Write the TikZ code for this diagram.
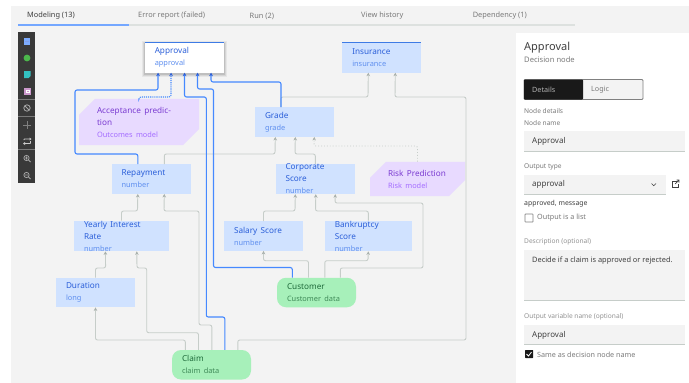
\documentclass[tikz,border=0pt]{standalone}
\usepackage{fontspec}
\setmainfont{Noto Sans}
\usetikzlibrary{arrows.meta,shapes.misc}
\definecolor{panelbg}{HTML}{F3F3F3}
\definecolor{boxblue}{HTML}{D0E2FF}
\definecolor{boxgreen}{HTML}{A7F0BA}
\definecolor{boxpurple}{HTML}{E8DAFF}
\definecolor{txtblue}{HTML}{2B5FD9}
\definecolor{subblue}{HTML}{5F8FEF}
\definecolor{txtpurple}{HTML}{7A3BD1}
\definecolor{subpurple}{HTML}{A56EFF}
\definecolor{txtgreen}{HTML}{1F6B3B}
\definecolor{subgreen}{HTML}{3F8A58}
\definecolor{gline}{HTML}{C6CDC9}
\definecolor{ghead}{HTML}{A8B0AC}
\definecolor{bline}{HTML}{4589FF}
\definecolor{dark}{HTML}{393939}
\definecolor{ink}{HTML}{404040}
\definecolor{soft}{HTML}{7A7A7A}
\tikzset{
  x=1pt,y=-1pt,
  dec/.style={rectangle,fill=boxblue,minimum width=79pt,minimum height=29.5pt,text width=59pt,inner xsep=10pt,inner ysep=0pt,align=left},
  dat/.style={dec,fill=boxgreen,rounded corners=9pt},
  mdl/.style={chamfered rectangle,chamfered rectangle corners={north west,south east},chamfered rectangle xsep=8pt,chamfered rectangle ysep=8pt,fill=boxpurple,minimum width=79pt,minimum height=29.5pt,text width=59pt,inner xsep=10pt,inner ysep=0pt,align=left},
  gflow/.style={draw=gline,line width=0.9pt,rounded corners=2pt,-{Stealth[length=3.5pt,width=3.5pt,color=ghead]}},
  bflow/.style={draw=bline,line width=1.1pt,rounded corners=2pt,-{Stealth[length=3.5pt,width=3.8pt,color=txtblue]}},
  gdot/.style={gflow,dotted},
  bdot/.style={bflow,densely dotted},
  lbl/.style={anchor=west,inner sep=0pt,font=\fontsize{7.2}{9}\selectfont,text=soft},
  val/.style={lbl,font=\fontsize{8}{10}\selectfont,text=ink},
  tab/.style={lbl,font=\fontsize{7.4}{9}\selectfont,text=soft},
  tool/.style={draw=#1,line width=0.8pt},
}
\newcommand{\bt}[1]{{\fontsize{8.2}{10.5}\selectfont\bfseries\color{txtblue}#1}}
\newcommand{\bs}[1]{{\fontsize{7.4}{9.5}\selectfont\color{subblue}#1}}
\newcommand{\pt}[1]{{\fontsize{8.2}{10.5}\selectfont\bfseries\color{txtpurple}#1}}
\newcommand{\ps}[1]{{\fontsize{7.4}{9.5}\selectfont\color{subpurple}#1}}
\newcommand{\gt}[1]{{\fontsize{8.2}{10.5}\selectfont\bfseries\color{txtgreen}#1}}
\newcommand{\gs}[1]{{\fontsize{7.4}{9.5}\selectfont\color{subgreen}#1}}
\begin{document}
\begin{tikzpicture}
\useasboundingbox (0,0) rectangle (689,383);
\fill[white] (0,0) rectangle (689,383);
% canvas and panel
\fill[panelbg] (11,6) rectangle (689,383);
\fill[white] (516,33) rectangle (689,383);
\fill[white] (0,0) rectangle (689,6);
% tabs
\fill[gline!60] (129,24) rectangle (575,25.5);
\fill[bline!75] (18,24) rectangle (129,25.5);
\node[tab,font=\fontsize{7.4}{9}\selectfont\bfseries,text=ink] (t1) at (27,16) {Modeling (13)};
\node[tab] (t2) at (138,16) {Error report (failed)};
\node[tab] (t3) at (249.5,16) {Run (2)};
\node[tab] (t4) at (361,16) {View history};
\node[tab] (t5) at (472.6,16) {Dependency (1)};
% toolbar
\fill[dark] (18,32) rectangle (35,183);
\foreach \yy in {99,116,149} \fill[soft] (18,\yy-.4) rectangle (35,\yy+.4);
\fill[bline!70!white] (23.5,38) rectangle (30,44.5);
\fill[txtblue!60!white] (25,40.5) rectangle (28.5,41.5);
\fill[green!60!black!70!white] (27,58) circle (3.4);
\fill[teal!60!cyan!80!white] (24,71) -- (30.5,71) -- (30.5,76) -- (28.5,78) -- (24,78) -- cycle;
\fill[violet!40!white] (24,88) rectangle (30.5,94.5);
\draw[white,line width=.5pt] (25.8,90) rectangle (28.8,92.5);
\draw[tool=gray!70!white] (27,108) circle (3.2) (24.8,105.8) -- (29.2,110.2);
\draw[tool=gray] (23,125) -- (31,125) (27,121) -- (27,129);
\draw[tool=gray!40!white,rounded corners=.5pt] (24,140) -- (24,139) -- (30.5,139) (24,143.5) -- (30.5,143.5) -- (30.5,141);
\fill[gray!40!white] (29.5,137.5) -- (31.5,139) -- (29.5,140.5) -- cycle (25,142) -- (23,143.5) -- (25,145) -- cycle;
\draw[tool=gray!70!white] (26.5,158) circle (2.6) (28.5,160) -- (30.5,162) (25.2,158) -- (27.8,158) (26.5,156.7) -- (26.5,159.3);
\draw[tool=gray!70!white] (26.5,175) circle (2.6) (28.5,177) -- (30.5,179) (25.2,175) -- (27.8,175);
% shadow of selected node
\foreach \e/\o in {3/.05,2/.07,1/.1}
  \fill[black,opacity=\o] (144.5-\e,43-\e+1) rectangle (224+\e,72.5+\e+1);
% nodes
\node[dec,fill=white] (approval) at (184.25,57.75) {\bt{Approval}\\\bs{approval}};
\node[dec] (insurance) at (381.75,57.75) {\bt{Insurance}\\\bs{insurance}};
\node[mdl,minimum width=104pt,text width=84pt] (accept) at (139,122) {\pt{Acceptance prediction}\\\ps{Outcomes model}};
\node[dec] (grade) at (294.5,122) {\bt{Grade}\\\bs{grade}};
\node[dec] (repay) at (151,179) {\bt{Repayment}\\\bs{number}};
\node[dec] (corp) at (315,179) {\bt{Corporate Score}\\\bs{number}};
\node[mdl] (risk) at (417.5,179) {\pt{Risk Prediction}\\\ps{Risk model}};
\node[dec,minimum width=95pt,text width=75pt] (yearly) at (121.5,236) {\bt{Yearly Interest Rate}\\\bs{number}};
\node[dec] (salary) at (263.5,236) {\bt{Salary Score}\\\bs{number}};
\node[dec,minimum width=87pt,text width=67pt] (bank) at (368.3,236) {\bt{Bankruptcy Score}\\\bs{number}};
\node[dec] (duration) at (95.5,292.5) {\bt{Duration}\\\bs{long}};
\node[dat] (customer) at (316.5,292.5) {\gt{Customer}\\\gs{Customer data}};
\node[dat] (claim) at (211.5,364.75) {\gt{Claim}\\\gs{claim data}};
\draw[bline!90!black,line width=1.3pt] (approval.north west) -- (approval.north east);
\draw[bline!90!black,line width=1.3pt] (insurance.north west) -- (insurance.north east);
% gray flows
\draw[gflow] ([xshift=26pt]grade.north west) |- (368,97) -- ([xshift=26.25pt]insurance.south west);
\draw[gflow] ([xshift=66pt]claim.north west) |- (466,340) |- (395,97) -- ([xshift=53.25pt]insurance.south west);
\draw[gflow] ([xshift=53pt]repay.north west) |- (275,154) -- ([xshift=20.5pt]grade.south west);
\draw[gflow] ([xshift=40pt]corp.north west) |- (295,154) -- ([xshift=40.5pt]grade.south west);
\draw[gdot] (risk.north) |- (314,146) -- ([xshift=59.5pt]grade.south west);
\draw[gflow] (salary.north) |- (295,211) -- ([xshift=20pt]corp.south west);
\draw[gflow] (bank.north) |- (315.5,211) -- ([xshift=40.5pt]corp.south west);
\draw[gflow] ([xshift=63.5pt]customer.north west) |- (423,268) |- (335,203) -- ([xshift=60pt]corp.south west);
\draw[gflow] ([xshift=48pt]customer.north west) |- (368,260.7) -- (bank.south);
\draw[gflow] ([xshift=31.7pt]customer.north west) |- (263.5,260.7) -- (salary.south);
\draw[gflow] (yearly.north) |- (137.5,211) -- ([xshift=26.5pt]repay.south west);
\draw[gflow] ([xshift=40pt]claim.north west) |- (199,325) |- (164,211) -- ([xshift=53pt]repay.south west);
\draw[gflow] (duration.north) |- (105.6,268) -- ([xshift=31.6pt]yearly.south west);
\draw[gflow] ([xshift=26.7pt]claim.north west) |- (146.7,332.7) |- (137,268) -- ([xshift=63pt]yearly.south west);
\draw[gflow] ([xshift=13.5pt]claim.north west) |- (95.5,340) -- (duration.south);
% blue flows
\draw[bflow] ([xshift=26.5pt]repay.north west) |- (75,154) |- (158,90) -- ([xshift=13.5pt]approval.south west);
\draw[bdot] ([xshift=0pt]accept.north) |- (171,97) -- ([xshift=26.5pt]approval.south west);
\draw[bflow] ([xshift=53pt]claim.north west) |- (206.3,317) |- (184.5,97) -- ([xshift=40pt]approval.south west);
\draw[bflow] ([xshift=15.5pt]customer.north west) |- (213.5,267.5) |- (197.5,89) -- ([xshift=53pt]approval.south west);
\draw[bflow] ([xshift=-13.5pt]grade.north) |- (211,82) -- ([xshift=66.5pt]approval.south west);
% side panel
\node[lbl,font=\fontsize{11}{13}\selectfont,text=ink] (ptitle) at (524,48) {Approval};
\node[lbl,font=\fontsize{7.6}{9}\selectfont] (psub) at (524,59.5) {Decision node};
\draw[draw=gray,line width=.8pt,fill=panelbg,rounded corners=1pt] (524,79.5) rectangle (643,99.5);
\fill[black!90,rounded corners=.8pt] (524,79.5) rectangle (583,99.5);
\node[lbl,text=gray!60!white] (details) at (532,90) {Details};
\node[lbl] (logic) at (591,90) {Logic};
\node[lbl,font=\fontsize{6.6}{8}\selectfont] (nd) at (524,111) {Node details};
\node[lbl,font=\fontsize{6.6}{8}\selectfont] (nn) at (524,123) {Node name};
\fill[panelbg] (524,131) rectangle (685,151);
\draw[gline] (524,151) -- (685,151);
\node[val] (f1) at (532,141.5) {Approval};
\node[lbl,font=\fontsize{6.6}{8}\selectfont] (ot) at (524,167) {Output type};
\fill[panelbg] (524,175) rectangle (666,194.5);
\draw[gline] (524,194.5) -- (666,194.5);
\node[val] (f2) at (532,184.7) {approval};
\draw[ink,line width=.6pt] (651.5,183.5) -- (653.7,185.7) -- (656,183.5);
\draw[ink,line width=.7pt] (677,181) -- (672,181) -- (672,187.5) -- (678.5,187.5) -- (678.5,184);
\draw[ink,line width=.7pt] (675,184) -- (679,180) (676.5,180) -- (679,180) -- (679,182.5);
\node[lbl,font=\fontsize{6.9}{8}\selectfont,text=ink] (msg) at (524,203.5) {approved, message};
\draw[gray,line width=.7pt,rounded corners=.5pt] (525,214) rectangle (533,222);
\node[lbl,text=soft] (ol) at (537,218) {Output is a list};
\node[lbl,font=\fontsize{6.6}{8}\selectfont,text=gray!85!white] (dl) at (524,242) {Description (optional)};
\fill[panelbg] (524,250) rectangle (685,300);
\draw[gline] (524,300) -- (685,300);
\node[lbl,font=\fontsize{7.4}{9}\selectfont,text=ink] (dt) at (532,260.5) {Decide if a claim is approved or rejected.};
\node[lbl,font=\fontsize{6.6}{8}\selectfont,text=gray!85!white] (ov) at (524,316.5) {Output variable name (optional)};
\fill[panelbg] (524,325) rectangle (685,344);
\draw[gline] (524,344) -- (685,344);
\node[val] (f3) at (532,335) {Approval};
\fill[black!90,rounded corners=.5pt] (525,350) rectangle (533,358);
\draw[white,line width=.8pt] (526.5,354) -- (528.5,356) -- (531.5,352);
\node[lbl,text=soft] (sd) at (537,354.5) {Same as decision node name};
\end{tikzpicture}
\end{document}
